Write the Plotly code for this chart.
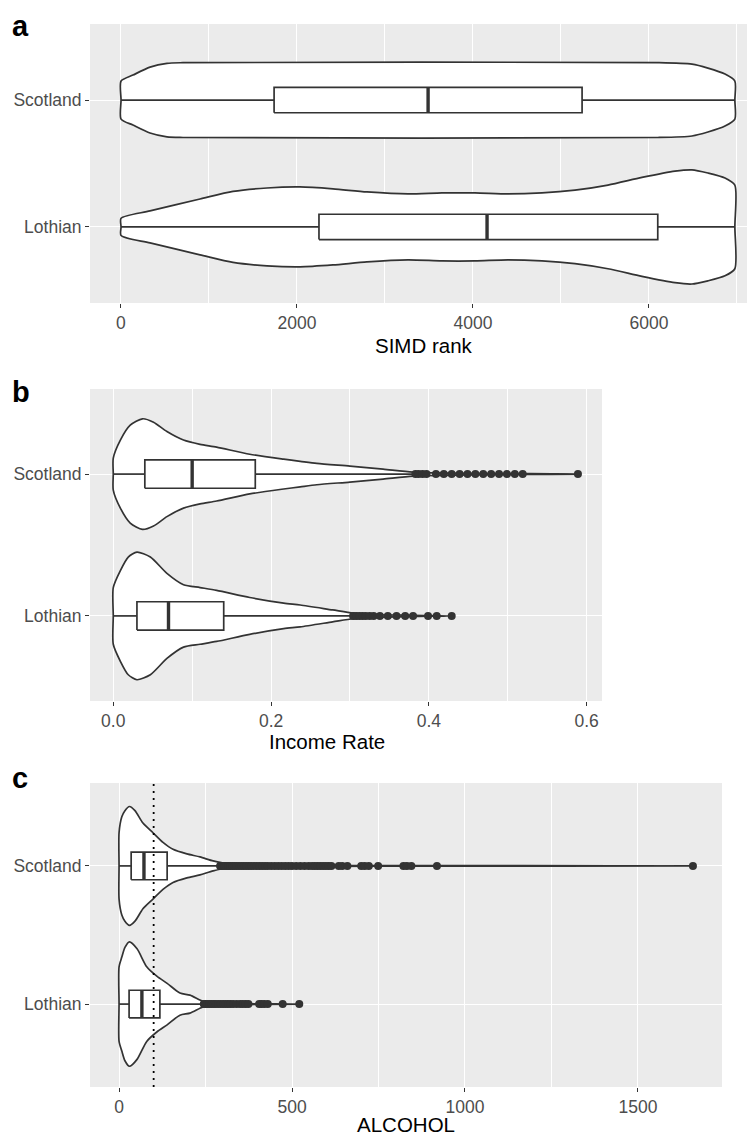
import plotly.graph_objects as go

# ---------------- data ----------------
groups = ["Lothian", "Scotland"]          # y positions 1, 2
group_pos = [1, 2]

# Panel a: SIMD rank  (violin profile: x position, half-width in category units)
a_sco_x = [1, 136, 330, 523, 705, 6102, 6489, 6670, 6864, 6976]
a_sco_hw = [0.15, 0.197, 0.26, 0.29, 0.295, 0.295, 0.283, 0.252, 0.205, 0.15]
a_lot_x = [1, 330, 898, 1273, 1659, 2034, 2409, 2795, 3261, 3648, 4023, 4398,
           4784, 5159, 5534, 5920, 6295, 6489, 6670, 6864, 6976]
a_lot_hw = [0.068, 0.126, 0.22, 0.28, 0.307, 0.315, 0.30, 0.276, 0.26, 0.268, 0.268, 0.26,
            0.268, 0.29, 0.33, 0.39, 0.44, 0.45, 0.425, 0.386, 0.33]
# box stats [Lothian, Scotland]
a_low = [1, 1]
a_q1 = [2250, 1740]
a_med = [4160, 3490]
a_q3 = [6100, 5240]
a_up = [6976, 6976]
a_out_sco = []
a_out_lot = []

# Panel b: Income Rate
b_sco_x = [0, 0.009, 0.0215, 0.037, 0.051, 0.068, 0.089, 0.11, 0.131, 0.173, 0.216,
           0.237, 0.258, 0.30, 0.342, 0.38, 0.45, 0.52, 0.59]
b_sco_hw = [0.113, 0.24, 0.345, 0.39, 0.366, 0.30, 0.24, 0.21, 0.19, 0.14, 0.105,
            0.09, 0.075, 0.056, 0.035, 0.014, 0.005, 0.003, 0.0]
b_lot_x = [0, 0.009, 0.019, 0.03, 0.047, 0.068, 0.089, 0.11, 0.131, 0.173, 0.216,
           0.237, 0.278, 0.304, 0.33, 0.38, 0.429]
b_lot_hw = [0.2, 0.32, 0.415, 0.45, 0.415, 0.30, 0.22, 0.2, 0.18, 0.13, 0.09,
            0.077, 0.042, 0.02, 0.01, 0.004, 0.0]
b_low = [0, 0]
b_q1 = [0.03, 0.04]
b_med = [0.07, 0.10]
b_q3 = [0.14, 0.18]
b_up = [0.30, 0.38]
b_out_sco = [0.383, 0.387, 0.392, 0.397, 0.409, 0.419, 0.429, 0.439, 0.449, 0.459,
             0.469, 0.479, 0.489, 0.499, 0.509, 0.519, 0.589]
b_out_lot = [0.304, 0.308, 0.312, 0.316, 0.32, 0.325, 0.33, 0.338, 0.348, 0.359,
             0.37, 0.38, 0.399, 0.41, 0.429]

# Panel c: ALCOHOL
c_sco_x = [0, 8, 17, 30, 46, 69, 98, 127, 156, 196, 234, 272, 312, 400, 600, 900, 1659]
c_sco_hw = [0.24, 0.355, 0.40, 0.43, 0.40, 0.31, 0.24, 0.17, 0.12, 0.087, 0.065,
            0.036, 0.015, 0.005, 0.003, 0.002, 0.0]
c_lot_x = [0, 8, 17, 30, 52, 80, 110, 139, 176, 205, 234, 254, 300, 521]
c_lot_hw = [0.27, 0.34, 0.41, 0.45, 0.40, 0.27, 0.20, 0.15, 0.08, 0.065, 0.03,
            0.01, 0.005, 0.0]
c_low = [0, 0]
c_q1 = [29, 35]
c_med = [66, 72]
c_q3 = [118, 139]
c_up = [240, 290]
c_out_sco = [292, 298, 304, 310, 316, 322, 328, 334, 340, 347, 354, 361, 368, 375,
             382, 390, 398, 406, 414, 422, 430, 440, 450, 460, 470, 480, 490, 500,
             512, 524, 536, 548, 558, 566, 574, 582, 590, 598, 606, 614, 635, 645,
             660, 700, 710, 722, 749, 822, 832, 845, 919, 1659]
c_out_lot = [245, 250, 256, 262, 268, 274, 280, 287, 294, 301, 308, 315, 322, 330,
             340, 350, 358, 366, 374, 405, 412, 420, 430, 473, 521]
c_ref_line = 100

x_titles = ["SIMD rank", "Income Rate", "ALCOHOL"]
panel_letters = ["a", "b", "c"]

# ---------------- layout geometry (page pixels) ----------------
PAGE_W, PAGE_H = 755, 1137
OFF = 8                      # default body margin of the html page
W, H = PAGE_W - OFF, PAGE_H - OFF

panels = [
    dict(l=90, r=755, t=24, b=303, xr=[-352, 7205], ticks=[0, 2000, 4000, 6000],
         ticktext=["0", "2000", "4000", "6000"], minor=[1000, 3000, 5000, 7000]),
    dict(l=90, r=602, t=389, b=701, xr=[-0.0295, 0.6195], ticks=[0, 0.2, 0.4, 0.6],
         ticktext=["0.0", "0.2", "0.4", "0.6"], minor=[0.1, 0.3, 0.5]),
    dict(l=90, r=722, t=783, b=1087, xr=[-84, 1743], ticks=[0, 500, 1000, 1500],
         ticktext=["0", "500", "1000", "1500"], minor=[250, 750, 1250]),
]


def px_x(x):
    return (x - OFF) / W


def px_y(y):
    return 1 - (y - OFF) / H


INK = "#333333"
LW = 1.7
BOXW = 0.2
FONT = "Liberation Sans, Arial, sans-serif"

fig = go.Figure()


def violin_path(vx, vhw, pos):
    xs, ys = [], []
    for x, h in zip(vx, vhw):
        xs.append(x); ys.append(pos + h)
    if vhw[-1] > 0:
        xs.append(vx[-1]); ys.append(pos)
    for x, h in zip(vx[::-1], vhw[::-1]):
        if h == 0:
            continue
        xs.append(x); ys.append(pos - h)
    xs.append(vx[0]); ys.append(pos)
    xs.append(vx[0]); ys.append(pos + vhw[0])
    return xs, ys


def add_panel(i, viol, box, outs):
    xa = "x" if i == 0 else f"x{i+1}"
    ya = "y" if i == 0 else f"y{i+1}"
    for (vx, vhw), pos in zip(viol, group_pos):
        xs, ys = violin_path(vx, vhw, pos)
        fig.add_trace(go.Scatter(x=xs, y=ys, mode="lines",
                                 fill="toself", fillcolor="white",
                                 line=dict(color=INK, width=LW, shape="spline",
                                           smoothing=0.7),
                                 xaxis=xa, yaxis=ya, hoverinfo="skip"))
    low, q1, med, q3, up = box
    for k, pos in enumerate(group_pos):
        lo_y, hi_y = pos - BOXW / 2, pos + BOXW / 2
        fig.add_trace(go.Scatter(x=[low[k], q1[k], None, q3[k], up[k]],
                                 y=[pos, pos, None, pos, pos], mode="lines",
                                 line=dict(color=INK, width=LW),
                                 xaxis=xa, yaxis=ya, hoverinfo="skip"))
        fig.add_trace(go.Scatter(x=[q1[k], q3[k], q3[k], q1[k], q1[k]],
                                 y=[lo_y, lo_y, hi_y, hi_y, lo_y], mode="lines",
                                 fill="toself", fillcolor="white",
                                 line=dict(color=INK, width=LW),
                                 xaxis=xa, yaxis=ya, hoverinfo="skip"))
        fig.add_trace(go.Scatter(x=[med[k], med[k]], y=[lo_y, hi_y],
                                 mode="lines", line=dict(color=INK, width=3.4),
                                 xaxis=xa, yaxis=ya, hoverinfo="skip"))
    for vals, pos in zip(outs, group_pos):
        if vals:
            fig.add_trace(go.Scatter(x=vals, y=[pos] * len(vals), mode="markers",
                                     marker=dict(color=INK, size=8, line=dict(width=0)),
                                     xaxis=xa, yaxis=ya, hoverinfo="skip"))


add_panel(0, [(a_lot_x, a_lot_hw), (a_sco_x, a_sco_hw)],
          (a_low, a_q1, a_med, a_q3, a_up), [a_out_lot, a_out_sco])
add_panel(1, [(b_lot_x, b_lot_hw), (b_sco_x, b_sco_hw)],
          (b_low, b_q1, b_med, b_q3, b_up), [b_out_lot, b_out_sco])
add_panel(2, [(c_lot_x, c_lot_hw), (c_sco_x, c_sco_hw)],
          (c_low, c_q1, c_med, c_q3, c_up), [c_out_lot, c_out_sco])

# dotted reference line in panel c
fig.add_trace(go.Scatter(x=[c_ref_line, c_ref_line], y=[0.4, 2.6], mode="lines",
                         line=dict(color="black", width=1.8, dash="2px,5px"),
                         xaxis="x3", yaxis="y3", hoverinfo="skip"))

layout = dict(width=W, height=H, margin=dict(l=0, r=0, t=0, b=0, autoexpand=False),
              paper_bgcolor="white", plot_bgcolor="#EBEBEB", showlegend=False,
              font=dict(family=FONT), template="none")

annotations = []
for i, p in enumerate(panels):
    sx = "" if i == 0 else str(i + 1)
    xd = [max(0, px_x(p["l"])), min(1, px_x(p["r"]))]
    yd = [px_y(p["b"]), px_y(p["t"])]
    xr = list(p["xr"])
    if px_x(p["r"]) > 1:
        span = xr[1] - xr[0]
        xr[1] = xr[0] + span * (xd[1] - xd[0]) / (px_x(p["r"]) - px_x(p["l"]))
    layout["xaxis" + sx] = dict(
        domain=xd, range=xr, anchor="y" + sx, tickmode="array",
        tickvals=p["ticks"], ticktext=p["ticktext"], showgrid=True,
        gridcolor="white", gridwidth=1.4, zeroline=False, showline=False,
        ticks="outside", ticklen=4, tickwidth=1.4, tickcolor=INK, automargin=False,
        tickfont=dict(size=17.5, color="#4D4D4D", family=FONT),
        minor=dict(tickmode="array", tickvals=p["minor"], showgrid=True,
                   gridcolor="white", gridwidth=0.7, ticks=""),
        fixedrange=True)
    layout["yaxis" + sx] = dict(
        domain=yd, range=[0.4, 2.6], anchor="x" + sx, tickmode="array",
        tickvals=group_pos, ticktext=groups, showgrid=True, gridcolor="white",
        gridwidth=1.4, zeroline=False, showline=False, ticks="outside",
        ticklen=4, tickwidth=1.4, tickcolor=INK, automargin=False,
        tickfont=dict(size=17.5, color="#4D4D4D", family=FONT), fixedrange=True)

# axis titles (center x px, center y px, page coordinates)
title_pos = [(424, 345), (327, 741), (406, 1124)]
for t, (cx, cy) in zip(x_titles, title_pos):
    annotations.append(dict(text=t, x=px_x(cx), y=px_y(cy), xref="paper", yref="paper",
                            xanchor="center", yanchor="middle", showarrow=False,
                            font=dict(size=20.5, color="black", family=FONT)))
# panel letters (left x px, center y px)
letter_pos = [(10, 26), (10, 392), (10, 778)]
for t, (lx, cy) in zip(panel_letters, letter_pos):
    annotations.append(dict(text="<b>" + t + "</b>", x=px_x(lx), y=px_y(cy),
                            xref="paper", yref="paper", xanchor="left",
                            yanchor="middle", showarrow=False,
                            font=dict(size=29, color="black", family=FONT)))
layout["annotations"] = annotations

fig.update_layout(**layout)
fig.write_html("out.html")
